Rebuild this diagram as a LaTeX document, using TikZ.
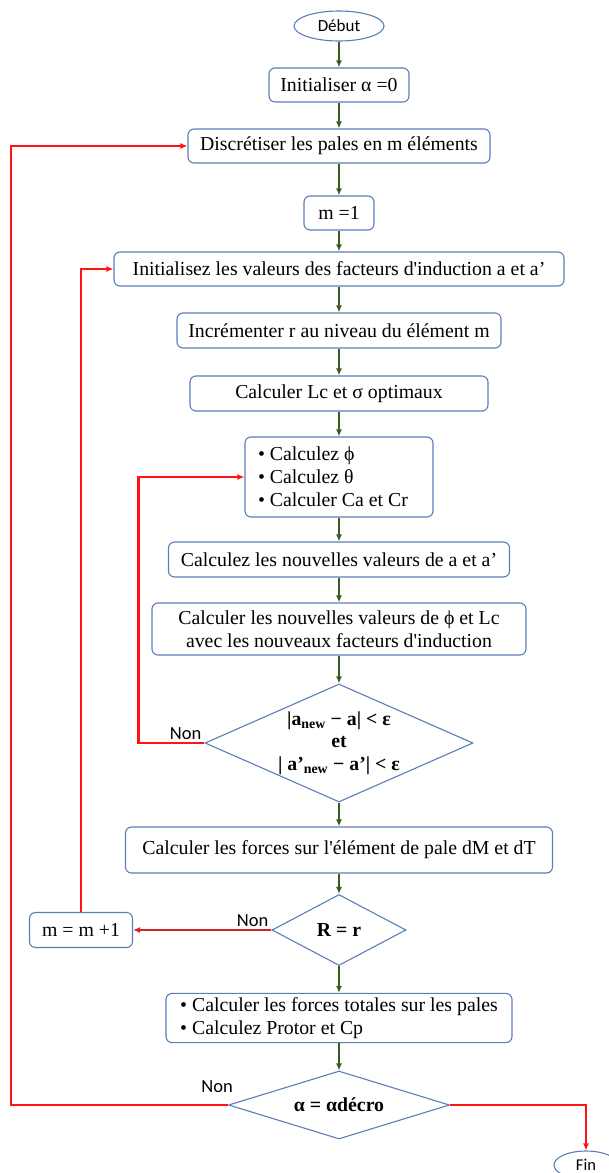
\documentclass[tikz,border=0pt]{standalone}
\usepackage{xcolor}
\usepackage{fontspec}
\setmainfont{Liberation Serif}
\newfontfamily\labelfont{Carlito}
\usepackage{tikz}
\usetikzlibrary{arrows.meta, shapes, positioning}
\definecolor{boxblue}{HTML}{5B7DB8}
\definecolor{flowgreen}{HTML}{3A5A22}
\definecolor{loopred}{HTML}{FF1414}
\definecolor{loopdark}{HTML}{D42027}

\begin{document}
\begin{tikzpicture}[x=1pt, y=1pt, node distance=30pt, >={Latex[length=7pt,width=6pt]},
  every node/.style={font=\fontsize{19.8}{23}\selectfont},
  process/.style={draw=boxblue, line width=1.1pt, rounded corners=6pt, fill=white, minimum height=34pt, inner sep=4pt},
  decision/.style={draw=boxblue, line width=1.1pt, diamond, inner sep=0pt, align=center, font=\fontsize{19.8}{22.5}\selectfont\bfseries},
  terminal/.style={draw=boxblue, line width=1.1pt, ellipse, inner sep=0pt, font=\labelfont\fontsize{17}{20}\selectfont},
  flow/.style={draw=flowgreen, line width=1.6pt, ->},
  loopback/.style={draw=loopred, line width=2.2pt},
  nonlabel/.style={font=\labelfont\fontsize{18.5}{20}\selectfont, inner sep=2pt}]
\useasboundingbox (0,0) rectangle (608,-1173);

\node[terminal, minimum width=90pt, minimum height=30pt] (debut) at (339,-26) {Début};
\node[process, minimum width=140pt, below of=debut, yshift=-29pt] (init) {Initialiser α =0};
\node[process, minimum width=302pt, below of=init, yshift=-31pt] (discr) {Discrétiser les pales en m éléments};
\node[process, minimum width=70pt, below of=discr, yshift=-37pt] (m1) {m =1};
\node[process, minimum width=450pt, below of=m1, yshift=-26pt] (initab) {Initialisez les valeurs des facteurs d\textquotesingle induction a et a’};
\node[process, minimum width=324pt, minimum height=35pt, below of=initab, yshift=-31.5pt] (incr) {Incrémenter r au niveau du élément m};
\node[process, minimum width=298pt, minimum height=35pt, below of=incr, yshift=-33pt] (lc) {Calculer Lc et σ optimaux};
\node[process, text width=162pt, inner xsep=13pt, minimum height=80pt, align=flush left, below of=lc, yshift=-53.5pt] (phi) {• Calculez ϕ\\ • Calculez θ\\ • Calculer Ca et Cr};
\node[process, minimum width=341pt, minimum height=35pt, below of=phi, yshift=-52.5pt] (newab) {Calculez les nouvelles valeurs de a et a’};
\node[process, minimum width=374pt, minimum height=52pt, align=center, below of=newab, yshift=-39.5pt] (newphi) {Calculer les nouvelles valeurs de ϕ et Lc\\avec les nouveaux facteurs d\textquotesingle induction};
\node[decision, aspect=2.27, minimum width=268pt, minimum height=118pt, below of=newphi, yshift=-84pt] (test) {|a\textsubscript{new} − a| < ε\\et\\| a’\textsubscript{new} − a’| < ε};
\node[process, minimum width=427pt, minimum height=46pt, below of=test, yshift=-77pt] (forces) {Calculer les forces sur l\textquotesingle élément de pale dM et dT};
\node[decision, aspect=1.9, minimum width=134pt, minimum height=71pt, below of=forces, yshift=-50pt] (rr) {R = r};
\node[process, minimum width=103pt, minimum height=35pt, left of=rr, xshift=-228pt] (mplus) {m = m +1};
\node[process, minimum width=346pt, minimum height=49pt, align=left, below of=rr, yshift=-58pt] (totals) {• Calculer les forces totales sur les pales\\ • Calculez Protor et Cp};
\node[decision, aspect=3.25, minimum width=221pt, minimum height=68pt, below of=totals, yshift=-57pt] (alpha) {α = αdécro};
\node[terminal, minimum width=64pt, minimum height=28pt, font=\labelfont\fontsize{16.5}{20}\selectfont] (fin) at (586,-1165) {Fin};

\draw	(debut) edge[flow] (init)
		(init) edge[flow] (discr)
		(discr) edge[flow] (m1)
		(m1) edge[flow] (initab)
		(initab) edge[flow] (incr)
		(incr) edge[flow] (lc)
		(lc) edge[flow] (phi)
		(phi) edge[flow] (newab)
		(newab) edge[flow] (newphi)
		(newphi) edge[flow] (test)
		(test) edge[flow] (forces)
		(forces) edge[flow] (rr)
		(rr) edge[flow] (totals)
		(totals) edge[flow] (alpha);

% the "Non" branches going back up
\draw[loopback, ->] (test.west) node[nonlabel, above left] {Non} -- ++(-66,0) |- (phi.west);
\draw[loopback, ->, draw=loopdark, line width=2.4pt] (rr.west) node[nonlabel, above left] {Non} -- (mplus.east);
\draw[loopback, ->] (mplus.north) |- (initab.west);
\draw[loopback, ->] (alpha.west) node[nonlabel, above left, xshift=8pt, yshift=9pt] {Non} -- ++(-217,0) |- (discr.west);
\draw[loopback, ->] (alpha.east) -| (fin.north);
\end{tikzpicture}
\end{document}
